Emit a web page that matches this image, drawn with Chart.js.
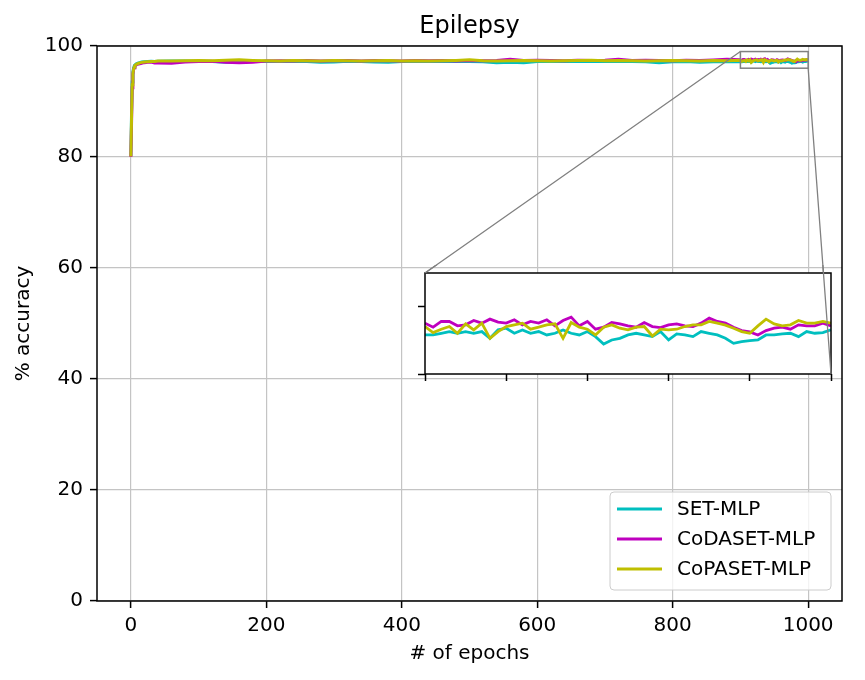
<!DOCTYPE html>
<html>
<head>
<meta charset="utf-8">
<title>Epilepsy</title>
<script src="https://cdn.jsdelivr.net/npm/chart.js@4.4.1/dist/chart.umd.min.js"></script>
<style>
body { margin: 0; background: #fff; }
#wrap { position: relative; width: 865px; height: 680px; background: #fff; }
#zoomChart { position: absolute; left: 410px; top: 265px; }
</style>
</head>
<body>
<div id="wrap">
<canvas id="mainChart" width="865" height="680"></canvas>
<canvas id="zoomChart" width="430" height="120"></canvas>
</div>
<script>
// ===== DATA =====

const seriesNames = ['SET-MLP', 'CoDASET-MLP', 'CoPASET-MLP'];
const seriesColors = ['#00bfbf', '#bf00bf', '#bfbf00'];

const xTicks = [0, 200, 400, 600, 800, 1000];
const yTicks = [0, 20, 40, 60, 80, 100];
const zoomXTicks = [900, 920, 940, 960, 980, 1000];
const zoomYTicks = [96, 98];

// epochs 0..880 (sampled)
const epochs = [0, 1, 2, 3, 4, 5, 6, 8, 10, 13, 16, 20, 25, 30, 35,
    40, 60, 80, 100, 120, 140, 160, 180, 200, 220, 240, 260, 280, 300, 320,
    340, 360, 380, 400, 420, 440, 460, 480, 500, 520, 540, 560, 580, 600, 620,
    640, 660, 680, 700, 720, 740, 760, 780, 800, 820, 840, 860, 880];

const setMain = [80.2, 88.0, 93.5, 95.3, 96.0, 96.4, 96.6, 96.8, 96.9, 97.0, 97.1, 97.15, 97.2, 97.25, 97.2,
    97.25, 97.3, 97.3, 97.25, 97.2, 97.05, 97.1, 97.2, 97.25, 97.2, 97.25, 97.2, 97.05, 97.1, 97.25,
    97.2, 97.1, 97.05, 97.2, 97.25, 97.2, 97.25, 97.2, 97.2, 97.15, 97.0, 97.05, 97.0, 97.2, 97.25,
    97.2, 97.25, 97.2, 97.2, 97.25, 97.2, 97.15, 97.0, 97.15, 97.2, 97.05, 97.15, 97.2];

const codaMain = [80.0, 86.0, 92.5, 94.8, 95.7, 96.1, 96.4, 96.6, 96.7, 96.8, 96.9, 97.0, 97.05, 97.1, 96.95,
    96.95, 96.9, 97.1, 97.2, 97.25, 97.05, 97.0, 97.05, 97.3, 97.35, 97.3, 97.4, 97.3, 97.35, 97.4,
    97.3, 97.4, 97.35, 97.3, 97.4, 97.35, 97.4, 97.3, 97.4, 97.35, 97.4, 97.6, 97.4, 97.45, 97.4,
    97.35, 97.45, 97.4, 97.45, 97.6, 97.4, 97.45, 97.4, 97.35, 97.45, 97.4, 97.5, 97.6];

const copaMain = [80.1, 87.0, 93.0, 95.0, 95.8, 96.2, 96.5, 96.7, 96.8, 96.95, 97.05, 97.1, 97.15, 97.2, 97.2,
    97.3, 97.3, 97.35, 97.4, 97.35, 97.45, 97.5, 97.4, 97.35, 97.3, 97.4, 97.35, 97.3, 97.4, 97.35,
    97.3, 97.35, 97.4, 97.3, 97.35, 97.3, 97.35, 97.4, 97.5, 97.35, 97.3, 97.35, 97.4, 97.35, 97.3,
    97.35, 97.4, 97.45, 97.35, 97.4, 97.35, 97.3, 97.35, 97.4, 97.35, 97.3, 97.4, 97.35];

// epochs 900..1000 (read from the zoom box)
const zoomEpochs = [900, 902, 904, 906, 908, 910, 912, 914, 916, 918,
    920, 922, 924, 926, 928, 930, 932, 934, 936, 938,
    940, 942, 944, 946, 948, 950, 952, 954, 956, 958,
    960, 962, 964, 966, 968, 970, 972, 974, 976, 978,
    980, 982, 984, 986, 988, 990, 992, 994, 996, 998, 1000];

const setZoom = [97.16, 97.16, 97.21, 97.26, 97.21, 97.26, 97.21, 97.26, 97.06, 97.31,
    97.36, 97.21, 97.31, 97.21, 97.26, 97.16, 97.21, 97.31, 97.21, 97.16,
    97.26, 97.11, 96.89, 97.01, 97.06, 97.16, 97.21, 97.16, 97.11, 97.26,
    97.01, 97.19, 97.16, 97.11, 97.26, 97.21, 97.16, 97.06, 96.91, 96.96,
    96.99, 97.01, 97.16, 97.16, 97.19, 97.21, 97.11, 97.26, 97.21, 97.23, 97.31];

const codaZoom = [97.51, 97.39, 97.56, 97.56, 97.43, 97.46, 97.59, 97.51, 97.63, 97.54,
    97.51, 97.61, 97.46, 97.56, 97.51, 97.61, 97.43, 97.59, 97.69, 97.43,
    97.56, 97.33, 97.39, 97.53, 97.49, 97.43, 97.39, 97.53, 97.41, 97.38,
    97.46, 97.49, 97.43, 97.41, 97.51, 97.66, 97.56, 97.51, 97.39, 97.29,
    97.25, 97.16, 97.29, 97.36, 97.39, 97.33, 97.46, 97.43, 97.43, 97.51, 97.43];

const copaZoom = [97.41, 97.23, 97.33, 97.41, 97.21, 97.49, 97.31, 97.51, 97.06, 97.26,
    97.41, 97.46, 97.51, 97.33, 97.39, 97.46, 97.49, 97.06, 97.53, 97.39,
    97.33, 97.16, 97.39, 97.46, 97.36, 97.31, 97.39, 97.41, 97.13, 97.33,
    97.31, 97.33, 97.41, 97.46, 97.46, 97.56, 97.51, 97.45, 97.36, 97.26,
    97.21, 97.43, 97.63, 97.49, 97.43, 97.46, 97.59, 97.51, 97.51, 97.56, 97.51];

// ===== LAYOUT =====

// inset canvas sits at (410,265); its axes box in page pixels:
const zoomOffset = { left: 410, top: 265 };
const zoomBox = { left: 425, top: 273, right: 831, bottom: 374 };

Chart.defaults.font.family = 'DejaVu Sans';
Chart.defaults.font.size = 20;
Chart.defaults.color = '#000';

function toPoints(xs, ys) {
    return xs.map((x, i) => ({ x: x, y: ys[i] }));
}

function makeDatasets(xs, seriesList, width) {
    return seriesNames.map((name, i) => ({
        label: name,
        data: toPoints(xs, seriesList[i]),
        borderColor: seriesColors[i],
        backgroundColor: seriesColors[i],
        borderWidth: width,
        pointRadius: 0,
        fill: false,
        tension: 0,
        order: 2 - i   // last series on top, like matplotlib
    }));
}

function fixedTicks(list) {
    return function (scale) {
        scale.ticks = list.map(v => ({ value: v }));
    };
}

// ===== MAIN CHART EXTRAS =====
const mainDecor = {
    id: 'mainDecor',
    afterDatasetsDraw(chart) {
        const c = chart.ctx;
        const x = chart.scales.x, y = chart.scales.y;
        const x1 = x.getPixelForValue(900), x2 = x.getPixelForValue(1000);
        const y1 = y.getPixelForValue(99), y2 = y.getPixelForValue(96);

        c.save();
        c.strokeStyle = '#808080';
        c.lineWidth = 1.5;
        c.strokeRect(x1, y1, x2 - x1, y2 - y1);

        c.lineWidth = 1.3;
        c.beginPath();
        c.moveTo(x1, y1);
        c.lineTo(zoomBox.left, zoomBox.top);
        c.moveTo(x2, y2);
        c.lineTo(zoomBox.right, zoomBox.bottom);
        c.stroke();
        c.restore();
    },
    afterDraw(chart) {
        const c = chart.ctx;
        const a = chart.chartArea;
        c.save();

        // spines
        c.strokeStyle = '#000';
        c.lineWidth = 1.5;
        c.strokeRect(a.left, a.top, a.right - a.left, a.bottom - a.top);

        // title + axis titles
        c.fillStyle = '#000';
        c.textAlign = 'center';
        c.textBaseline = 'middle';
        c.font = '24px "DejaVu Sans"';
        c.fillText('Epilepsy', (a.left + a.right) / 2, 27);
        c.font = '20px "DejaVu Sans"';
        c.fillText('# of epochs', (a.left + a.right) / 2, 654);
        c.save();
        c.translate(24, (a.top + a.bottom) / 2);
        c.rotate(-Math.PI / 2);
        c.fillText('% accuracy', 0, 0);
        c.restore();

        // legend
        c.beginPath();
        c.roundRect(610, 492, 221, 98, 4);
        c.fillStyle = 'rgba(255,255,255,0.8)';
        c.fill();
        c.strokeStyle = '#cccccc';
        c.lineWidth = 1;
        c.stroke();

        c.textAlign = 'left';
        seriesNames.forEach((name, i) => {
            const rowY = 509 + i * 30;
            c.strokeStyle = seriesColors[i];
            c.lineWidth = 3;
            c.beginPath();
            c.moveTo(617, rowY);
            c.lineTo(662, rowY);
            c.stroke();
            c.fillStyle = '#000';
            c.fillText(name, 677, rowY + 1);
        });

        c.restore();
    }
};

const mainCtx = document.getElementById('mainChart');

const mainChart = new Chart(mainCtx, {
    type: 'line',
    data: {
        datasets: makeDatasets(epochs.concat(zoomEpochs), [
            setMain.concat(setZoom),
            codaMain.concat(codaZoom),
            copaMain.concat(copaZoom)
        ], 3)
    },
    options: {
        responsive: false,
        animation: false,
        devicePixelRatio: 1,
        layout: {
            padding: { top: 46, right: 23, left: 0, bottom: 0 }
        },
        plugins: {
            legend: { display: false },
            tooltip: { enabled: false }
        },
        scales: {
            x: {
                type: 'linear',
                min: -50,
                max: 1050,
                afterBuildTicks: fixedTicks(xTicks),
                afterFit: s => { s.height = 79; },
                ticks: { padding: 6, color: '#000', callback: v => String(v) },
                grid: { color: '#c4c4c4', lineWidth: 1.2, tickLength: 7, tickColor: '#000', tickWidth: 1.5 },
                border: { display: false }
            },
            y: {
                type: 'linear',
                min: 0,
                max: 100,
                afterBuildTicks: fixedTicks(yTicks),
                afterFit: s => { s.width = 97; },
                ticks: { padding: 7, color: '#000', callback: v => String(v) },
                grid: { color: '#c4c4c4', lineWidth: 1.2, tickLength: 7, tickColor: '#000', tickWidth: 1.5 },
                border: { display: false }
            }
        }
    },
    plugins: [mainDecor]
});

// ===== ZOOM INSET =====
const zoomDecor = {
    id: 'zoomDecor',
    beforeDraw(chart) {
        const a = chart.chartArea;
        chart.ctx.save();
        chart.ctx.fillStyle = '#fff';
        chart.ctx.fillRect(a.left, a.top, a.right - a.left, a.bottom - a.top);
        chart.ctx.restore();
    },
    afterDraw(chart) {
        const c = chart.ctx;
        const a = chart.chartArea;
        c.save();
        c.strokeStyle = '#000';
        c.lineWidth = 1.5;
        c.strokeRect(a.left, a.top, a.right - a.left, a.bottom - a.top);

        // connector lines that cross the inset
        const mx = mainChart.scales.x, my = mainChart.scales.y;
        c.strokeStyle = '#808080';
        c.lineWidth = 1.3;
        c.beginPath();
        c.moveTo(mx.getPixelForValue(900) - zoomOffset.left, my.getPixelForValue(99) - zoomOffset.top);
        c.lineTo(a.left, a.top);
        c.moveTo(mx.getPixelForValue(1000) - zoomOffset.left, my.getPixelForValue(96) - zoomOffset.top);
        c.lineTo(a.right, a.bottom);
        c.stroke();
        c.restore();
    }
};

const zoomCtx = document.getElementById('zoomChart');

new Chart(zoomCtx, {
    type: 'line',
    data: {
        datasets: makeDatasets(zoomEpochs, [setZoom, codaZoom, copaZoom], 2.8)
    },
    options: {
        responsive: false,
        animation: false,
        devicePixelRatio: 1,
        layout: {
            padding: {
                top: zoomBox.top - zoomOffset.top,
                right: 430 - (zoomBox.right - zoomOffset.left),
                left: 0,
                bottom: 0
            }
        },
        plugins: {
            legend: { display: false },
            tooltip: { enabled: false }
        },
        scales: {
            x: {
                type: 'linear',
                min: 900,
                max: 1000,
                afterBuildTicks: fixedTicks(zoomXTicks),
                afterFit: s => { s.height = 120 - (zoomBox.bottom - zoomOffset.top); },
                ticks: { display: false },
                grid: { drawOnChartArea: false, tickLength: 7, tickColor: '#000', tickWidth: 1.5 },
                border: { display: false }
            },
            y: {
                type: 'linear',
                min: 96,
                max: 99,
                afterBuildTicks: fixedTicks(zoomYTicks),
                afterFit: s => { s.width = zoomBox.left - zoomOffset.left; },
                ticks: { display: false },
                grid: { drawOnChartArea: false, tickLength: 7, tickColor: '#000', tickWidth: 1.5 },
                border: { display: false }
            }
        }
    },
    plugins: [zoomDecor]
});
</script>
</body>
</html>
